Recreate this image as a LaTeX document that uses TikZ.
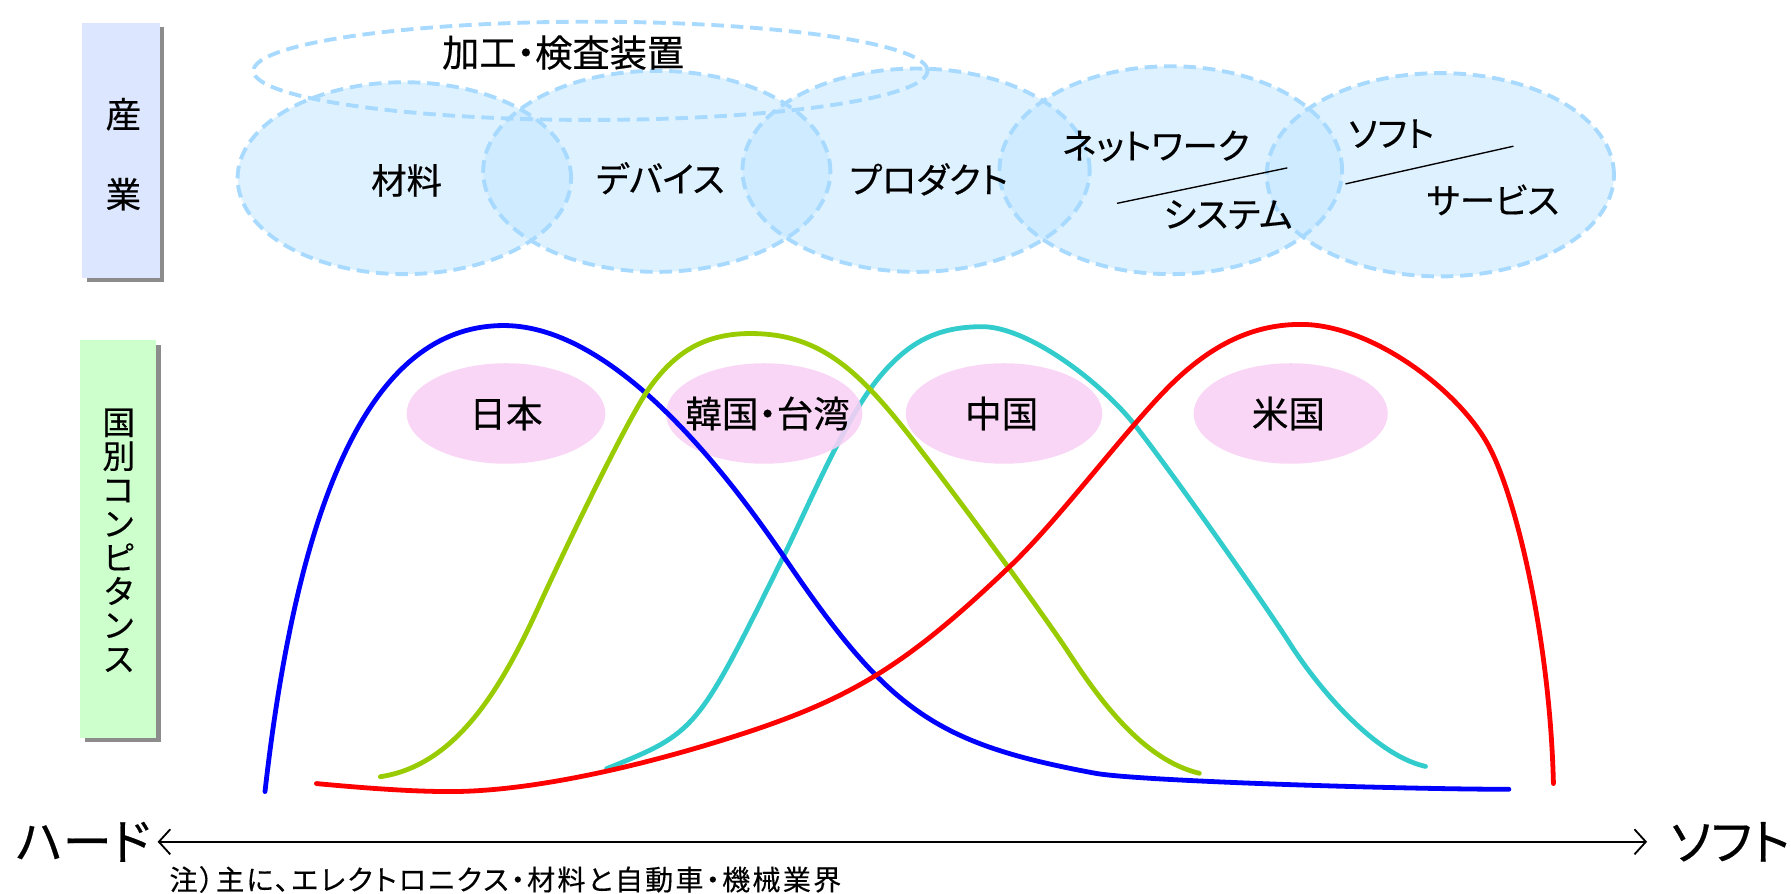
\documentclass[tikz,border=0pt]{standalone}
\usepackage{fontspec}
\setmainfont[RawFeature=+palt,FakeBold=0.4]{Noto Sans CJK JP}
\newfontfamily\notefont[RawFeature=+palt,FakeBold=0.3,LetterSpace=8]{Noto Sans CJK JP}
\usetikzlibrary{arrows.meta,shapes.geometric,shadows}
\definecolor{indbox}{RGB}{221,230,255}
\definecolor{cntbox}{RGB}{204,255,204}
\definecolor{ellfill}{RGB}{190,228,255}
\definecolor{elldash}{RGB}{168,218,255}
\definecolor{pinkfill}{RGB}{249,208,245}
\definecolor{cblue}{RGB}{0,0,255}
\definecolor{cgreen}{RGB}{153,204,0}
\definecolor{ccyan}{RGB}{51,204,204}
\definecolor{cred}{RGB}{255,0,0}
\tikzset{
  sidebox/.style={draw=none,fill=#1,inner sep=0pt,
    drop shadow={shadow xshift=2pt,shadow yshift=-2pt,fill=gray!90,opacity=1}},
  indfill/.style={ellipse,inner sep=0pt,fill=ellfill,fill opacity=0.5,draw=none},
  indline/.style={ellipse,inner sep=0pt,draw=elldash,line width=1.7pt,dash pattern=on 5.5pt off 3pt},
  pinkell/.style={ellipse,inner sep=0pt,fill=pinkfill,fill opacity=0.88,draw=none},
  toplabel/.style={font=\fontsize{15.5}{17}\selectfont,inner sep=0pt},
  cntlabel/.style={font=\fontsize{16}{17}\selectfont,inner sep=0pt},
  curve/.style={line width=2.1pt,line cap=round,line join=round},
}
\begin{document}
\begin{tikzpicture}[x=0.5pt,y=-0.5pt]
\useasboundingbox (0,0) rectangle (1568,782);
% side boxes
\node[sidebox=indbox,minimum width=34pt,minimum height=111.5pt] (indbox) at (106,131.5) {};
\node[font=\fontsize{15.5}{16}\selectfont] (ind1) at (108,100) {産};
\node[font=\fontsize{15.5}{16}\selectfont] (ind2) at (108,170) {業};
\node[sidebox=cntbox,minimum width=33.5pt,minimum height=174pt] (cntbox) at (103.5,472) {};
\node[font=\fontsize{14.3}{14.8}\selectfont,align=center,inner sep=0pt] (cnt) at (104,473)
  {国\\別\\コ\\ン\\ピ\\タ\\ン\\ス};
% industry ellipses fills
\node[indfill,minimum width=146pt,minimum height=84pt] (e1f) at (354,156) {};
\node[indfill,minimum width=152pt,minimum height=88pt] (e2f) at (575,150) {};
\node[indfill,minimum width=152pt,minimum height=89pt] (e3f) at (802,149) {};
\node[indfill,minimum width=150pt,minimum height=91pt] (e4f) at (1025,149) {};
\node[indfill,minimum width=152pt,minimum height=89pt] (e5f) at (1261,153) {};
% borders
\node[indline,minimum width=146pt,minimum height=84pt] (e1) at (354,156) {};
\node[indline,minimum width=152pt,minimum height=88pt] (e2) at (575,150) {};
\node[indline,minimum width=152pt,minimum height=89pt] (e3) at (802,149) {};
\node[indline,minimum width=150pt,minimum height=91pt] (e4) at (1025,149) {};
\node[indline,minimum width=152pt,minimum height=89pt] (e5) at (1261,153) {};
\node[indline,minimum width=295pt,minimum height=43pt] (e0) at (517,62) {};
% industry labels
\node[toplabel,font=\fontsize{16.3}{17}\selectfont] (l0) at (493,46) {加工・検査装置};
\node[toplabel] (l1) at (356,158) {材料};
\node[toplabel] (l2) at (578,156) {デバイス};
\node[toplabel] (l3) at (813,157) {プロダクト};
\node[toplabel] (l4a) at (1012,128) {ネットワーク};
\node[toplabel] (l4b) at (1075,188) {システム};
\node[toplabel] (l5a) at (1218,117) {ソフト};
\node[toplabel] (l5b) at (1307,175) {サービス};
\coordinate (s1a) at (978,178);
\coordinate (s1b) at (1127,147);
\coordinate (s2a) at (1178,161);
\coordinate (s2b) at (1325,128);
\draw[line width=0.6pt] (s1a) -- (s1b);
\draw[line width=0.6pt] (s2a) -- (s2b);
% cyan curve (lies under the country ellipses)
\draw[curve,ccyan] (531,673) .. controls (610,641) and (610,641) .. (686,487)
  .. controls (711,436) and (740,366) .. (770,330)
  .. controls (795,300) and (820,286) .. (860,286)
  .. controls (900,286) and (965,335) .. (995,374)
  .. controls (1030,419) and (1110,533) .. (1129,563)
  .. controls (1150,596) and (1200,660) .. (1248,671);
% country ellipses
\node[pinkell,minimum width=87pt,minimum height=44pt] (jp) at (443,362) {};
\node[pinkell,minimum width=86pt,minimum height=44pt] (kr) at (669,362) {};
\node[pinkell,minimum width=86pt,minimum height=44pt] (cn) at (879,362) {};
\node[pinkell,minimum width=85pt,minimum height=44pt] (us) at (1130,362) {};
\node[cntlabel] (jpl) at (443,362) {日本};
\node[cntlabel] (krl) at (672,362) {韓国・台湾};
\node[cntlabel] (cnl) at (877,362) {中国};
\node[cntlabel] (usl) at (1128,362) {米国};
% other curves
\draw[curve,cblue] (232,693) .. controls (264,410) and (335,285) .. (441,285)
  .. controls (540,285) and (640,420) .. (686,487)
  .. controls (778,623) and (819,651) .. (959,677)
  .. controls (999,684) and (1230,691) .. (1321,691);
\draw[curve,cgreen] (333,680) .. controls (400,670) and (440,601) .. (473,528)
  .. controls (495,480) and (550,365) .. (569,339)
  .. controls (590,310) and (615,292) .. (657,292)
  .. controls (720,292) and (754,326) .. (806,394)
  .. controls (840,438) and (905,526) .. (934,569)
  .. controls (962,612) and (1000,665) .. (1050,677);
\draw[curve,cred] (277,686) .. controls (320,690) and (360,693) .. (394,693)
  .. controls (470,693) and (570,668) .. (642,645)
  .. controls (746,612) and (794,582) .. (884,496)
  .. controls (930,452) and (990,370) .. (1029,333)
  .. controls (1065,299) and (1100,284) .. (1139,284)
  .. controls (1200,284) and (1275,340) .. (1302,388)
  .. controls (1327,432) and (1357,560) .. (1360,686);
% axis
\node[font=\fontsize{21.5}{23}\selectfont,inner sep=0pt,anchor=east] (hard) at (132,737) {ハード};
\node[font=\fontsize{21.5}{23}\selectfont,inner sep=0pt,anchor=west] (soft) at (1462,737) {ソフト};
\draw[line width=0.8pt,{Straight Barb[length=5pt,width=11pt]}-{Straight Barb[length=5pt,width=11pt]}]
  ([xshift=3pt]hard.east) -- ([xshift=-10pt]soft.west);
\node[font=\notefont\fontsize{12.3}{13}\selectfont,inner sep=0pt,anchor=west] (note) at (148,770) {注）主に、エレクトロニクス・材料と自動車・機械業界};
\end{tikzpicture}
\end{document}
